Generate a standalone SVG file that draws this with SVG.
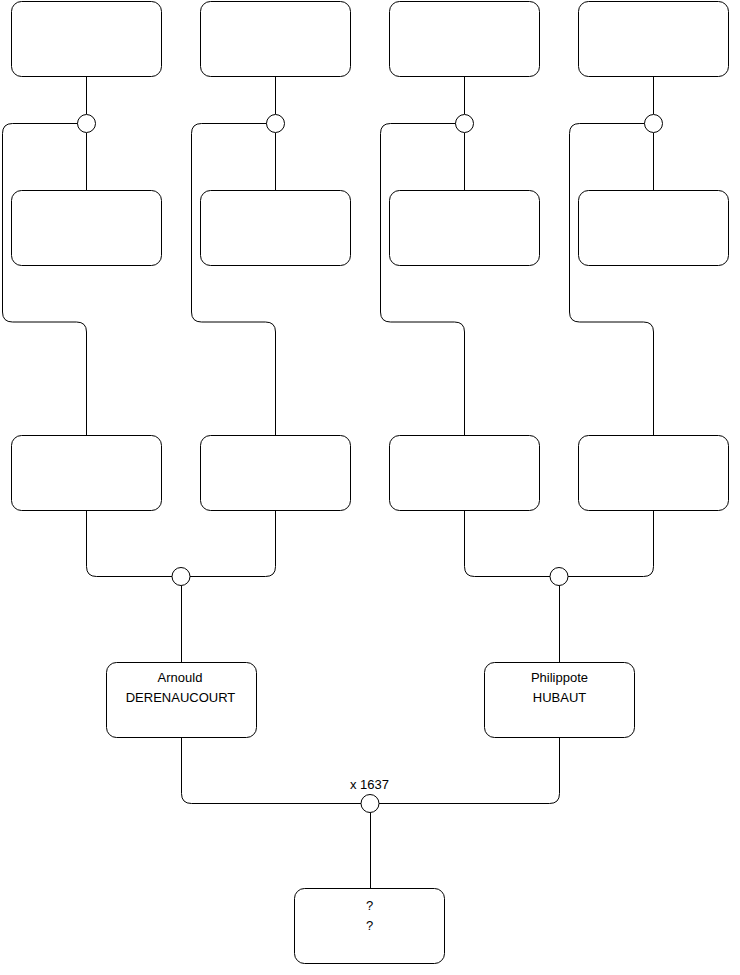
<svg xmlns="http://www.w3.org/2000/svg" width="740" height="975" viewBox="0 0 740 975">
<style>
.box{fill:#fff;stroke:#000;stroke-width:1}
.ln{fill:none;stroke:#000;stroke-width:1}
.dot{fill:#fff;stroke:#000;stroke-width:1}
text{font-family:"Liberation Sans",Arial,sans-serif;font-size:13px;fill:#000;text-anchor:middle}
</style>
<rect width="740" height="975" fill="#fff"/>
<g id="connectors">
<path class="ln" d="M86.5,76 V114 M86.5,133 V190 M78,123.5 H12.5 Q2.5,123.5 2.5,133.5 V312 Q2.5,322 12.5,322 H76.5 Q86.5,322 86.5,332 V435"/>
<path class="ln" d="M275.5,76 V114 M275.5,133 V190 M267,123.5 H201.5 Q191.5,123.5 191.5,133.5 V312 Q191.5,322 201.5,322 H265.5 Q275.5,322 275.5,332 V435"/>
<path class="ln" d="M464.5,76 V114 M464.5,133 V190 M456,123.5 H390.5 Q380.5,123.5 380.5,133.5 V312 Q380.5,322 390.5,322 H454.5 Q464.5,322 464.5,332 V435"/>
<path class="ln" d="M653.5,76 V114 M653.5,133 V190 M645,123.5 H579.5 Q569.5,123.5 569.5,133.5 V312 Q569.5,322 579.5,322 H643.5 Q653.5,322 653.5,332 V435"/>
<path class="ln" d="M86.5,510 V566.5 Q86.5,576.5 96.5,576.5 H172 M275.5,510 V566.5 Q275.5,576.5 265.5,576.5 H190 M181.5,586 V662"/>
<path class="ln" d="M464.5,510 V566.5 Q464.5,576.5 474.5,576.5 H550 M653.5,510 V566.5 Q653.5,576.5 643.5,576.5 H568 M559.5,586 V662"/>
<path class="ln" d="M181.5,737 V793.5 Q181.5,803.5 191.5,803.5 H361 M559.5,737 V793.5 Q559.5,803.5 549.5,803.5 H379 M370.5,813 V888"/>
<circle class="dot" cx="86.5" cy="123.5" r="9"/>
<circle class="dot" cx="275.5" cy="123.5" r="9"/>
<circle class="dot" cx="464.5" cy="123.5" r="9"/>
<circle class="dot" cx="653.5" cy="123.5" r="9"/>
<circle class="dot" cx="181" cy="576.5" r="9"/>
<circle class="dot" cx="559" cy="576.5" r="9"/>
<circle class="dot" cx="370" cy="803.5" r="9"/>
<text x="369.5" y="789">x 1637</text>
</g>
<g id="n1"><rect class="box" x="11.5" y="1.5" width="150" height="75" rx="10"/></g>
<g id="n2"><rect class="box" x="200.5" y="1.5" width="150" height="75" rx="10"/></g>
<g id="n3"><rect class="box" x="389.5" y="1.5" width="150" height="75" rx="10"/></g>
<g id="n4"><rect class="box" x="578.5" y="1.5" width="150" height="75" rx="10"/></g>
<g id="n5"><rect class="box" x="11.5" y="190.5" width="150" height="75" rx="10"/></g>
<g id="n6"><rect class="box" x="200.5" y="190.5" width="150" height="75" rx="10"/></g>
<g id="n7"><rect class="box" x="389.5" y="190.5" width="150" height="75" rx="10"/></g>
<g id="n8"><rect class="box" x="578.5" y="190.5" width="150" height="75" rx="10"/></g>
<g id="n9"><rect class="box" x="11.5" y="435.5" width="150" height="75" rx="10"/></g>
<g id="n10"><rect class="box" x="200.5" y="435.5" width="150" height="75" rx="10"/></g>
<g id="n11"><rect class="box" x="389.5" y="435.5" width="150" height="75" rx="10"/></g>
<g id="n12"><rect class="box" x="578.5" y="435.5" width="150" height="75" rx="10"/></g>
<g id="arnould"><rect class="box" x="106.5" y="662.5" width="150" height="75" rx="10"/>
<text x="180" y="682">Arnould</text><text x="180.5" y="702">DERENAUCOURT</text></g>
<g id="philippote"><rect class="box" x="484.5" y="662.5" width="150" height="75" rx="10"/>
<text x="559.5" y="682">Philippote</text><text x="559.5" y="702">HUBAUT</text></g>
<g id="child"><rect class="box" x="294.5" y="888.5" width="150" height="75" rx="10"/>
<text x="369.5" y="910">?</text><text x="369.5" y="930">?</text></g>
</svg>
